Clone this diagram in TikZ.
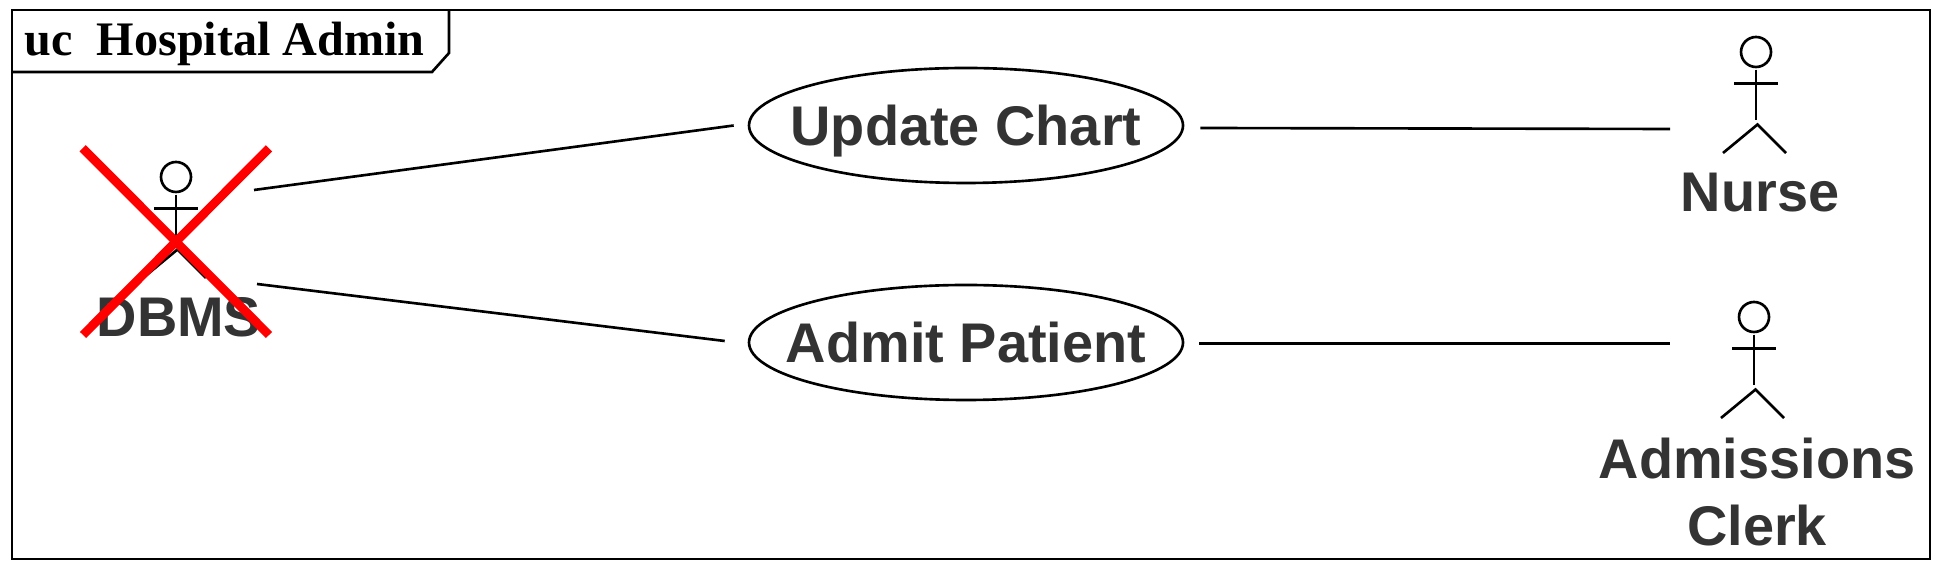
\documentclass[tikz,border=0pt]{standalone}
\usepackage{fontspec}
\setmainfont{Liberation Serif}
\setsansfont{Liberation Sans}
\usetikzlibrary{shapes.geometric}
\definecolor{labelgray}{HTML}{333333}
\tikzset{
  umlline/.style={line width=0.75pt,black},
  usecase/.style={ellipse,draw,umlline,minimum width=4.34cm,minimum height=1.15cm,inner sep=0pt,
    text=labelgray,text height=0.40cm,text depth=0pt,font=\sffamily\bfseries\fontsize{15.9}{19.06}\selectfont},
  actorlabel/.style={inner sep=0pt,align=center,text=labelgray,font=\sffamily\bfseries\fontsize{15.9}{19.06}\selectfont},
  crossout/.style={red,line width=2.5pt},
  stickman/.pic={
    \draw[umlline] (0,0) circle (0.15);
    \draw[umlline] (0,-0.176) -- (0,-0.684);
    \draw[umlline] (-0.22,-0.315) -- (0.22,-0.315);
    \draw[umlline] (-0.33,-1.01) -- (0.015,-0.725) -- (0.30,-1.01);
  }
}
\begin{document}
\begin{tikzpicture}
   \useasboundingbox (0,0) rectangle (19.44,5.72);
   % frame and tab
   \draw[umlline] (0.12,0.13) rectangle (19.30,5.62);
   \draw[umlline] (0.12,5.00) -- (4.32,5.00) -- (4.49,5.19) -- (4.49,5.62);
   \node[anchor=base west,inner sep=0pt,font=\bfseries\fontsize{13.7}{16}\selectfont] (title) at (0.24,5.16) {uc\ \ Hospital Admin};
   % use cases
   \node[usecase] (update) at (9.66,4.465) {\makebox[0pt]{Update Chart}};
   \node[usecase] (admit) at (9.66,2.295) {\makebox[0pt]{Admit Patient}};
   % actors
   \pic at (1.76,3.95) {stickman};
   \node[actorlabel,anchor=base] (dbms) at (1.79,2.35) {DBMS};
   \pic at (17.56,5.20) {stickman};
   \node[actorlabel,anchor=base] (nurse) at (17.60,3.60) {Nurse};
   \pic at (17.54,2.55) {stickman};
   \node[actorlabel,anchor=north] (clerk) at (17.57,1.35) {Admissions\\Clerk};
   % free ends beside the actors
   \coordinate (dbmsup) at (2.54,3.82);
   \coordinate (dbmsdown) at (2.57,2.88);
   \coordinate (nurseend) at (16.70,4.43);
   \coordinate (clerkend) at (16.70,2.285);
   % associations
   \draw[umlline] (dbmsup) -- ([xshift=-0.14cm]update.west);
   \draw[umlline] (dbmsdown) -- ([xshift=-0.23cm,yshift=0.015cm]admit.west);
   \draw[umlline] ([xshift=0.16cm,yshift=-0.025cm]update.east) -- (nurseend);
   \draw[umlline] ([xshift=0.15cm,yshift=-0.01cm]admit.east) -- (clerkend);
   % red cross over DBMS
   \draw[crossout] (0.827,4.237) -- (2.69,2.37);
   \draw[crossout] (2.69,4.237) -- (0.83,2.37);
\end{tikzpicture}
\end{document}
